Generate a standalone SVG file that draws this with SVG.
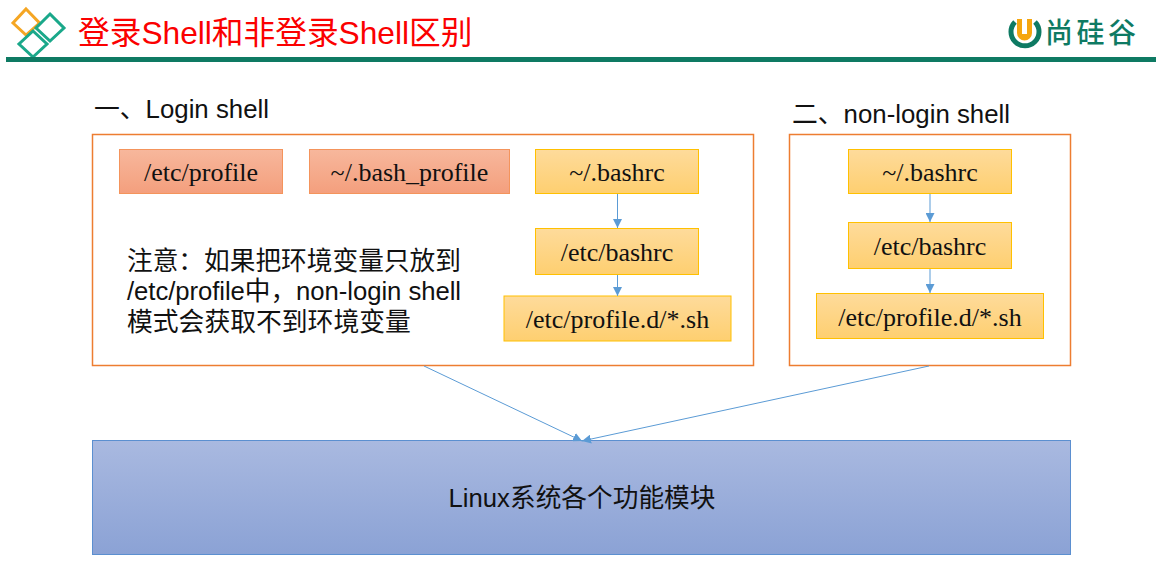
<svg xmlns="http://www.w3.org/2000/svg" width="1167" height="578" viewBox="0 0 1167 578">
<style>
.zh{font-family:"Liberation Sans","Noto Sans CJK SC",sans-serif;fill:#111}
.se{font-family:"Liberation Serif","Noto Sans CJK SC",serif;font-size:26px;fill:#111;text-anchor:middle}
.panel{fill:#fff;stroke:#ed7d31;stroke-width:1.5}
.red{fill:url(#gRed);stroke:#f4945c;stroke-width:1}
.yel{fill:url(#gYel);stroke:#ffc000;stroke-width:1}
.conn{stroke:#5b9bd5;stroke-width:1;fill:none}
.dia{fill:none;stroke-width:3}
</style>
<defs>
<linearGradient id="gRed" x1="0" y1="0" x2="0" y2="1"><stop offset="0" stop-color="#f7b79c"/><stop offset="1" stop-color="#f49f7d"/></linearGradient>
<linearGradient id="gYel" x1="0" y1="0" x2="0" y2="1"><stop offset="0" stop-color="#fedb9b"/><stop offset="1" stop-color="#fecf70"/></linearGradient>
<linearGradient id="gBlue" x1="0" y1="0" x2="0" y2="1"><stop offset="0" stop-color="#a9b9e0"/><stop offset="1" stop-color="#8ba2d5"/></linearGradient>
<marker id="arr" markerWidth="10" markerHeight="9" refX="9" refY="4.500" orient="auto" markerUnits="userSpaceOnUse"><path d="M0 0L9 4.500L0 9Z" fill="#5b9bd5"/></marker>
</defs>
<rect width="1167" height="578" fill="#fff"/>
<g id="header">
<path class="dia" stroke="#f5a623" d="M26 9L39.500 23L26 35L13 23Z"/>
<path class="dia" stroke="#1aa88a" d="M50 14L64 28L50 41L36 28Z"/>
<path class="dia" stroke="#1aa88a" d="M33 31L47 44L33 57L19 44Z"/>
<rect x="6" y="57" width="1150" height="5" fill="#0e7a63"/>
<text x="78" y="44" font-family="'Liberation Sans','Noto Sans CJK SC',sans-serif" font-size="31.700" fill="#fb0000">登录Shell和非登录Shell区别</text>
</g>
<g id="logo">
<path d="M1015 22A14 14 0 1 0 1035 22" fill="none" stroke="#0e7a63" stroke-width="5"/>
<path d="M1017 19V33A7.500 7.500 0 0 0 1032 33V19H1027V34H1022V19Z" fill="#f5a60f"/>
<text x="1045" y="43" font-family="'Noto Sans CJK SC',sans-serif" font-size="28" font-weight="500" textLength="91" fill="#0e7a63">尚硅谷</text>
</g>
<g id="panel-login"><rect class="panel" x="92.500" y="134.500" width="661" height="231"/></g>
<g id="panel-nonlogin"><rect class="panel" x="789.500" y="134.500" width="281" height="231"/></g>
<g id="label-login"><text class="zh" x="94" y="118" font-size="25.800">一、Login shell</text></g>
<g id="label-nonlogin"><text class="zh" x="792" y="123" font-size="25.800">二、non-login shell</text></g>
<g id="n1"><rect class="red" x="119.500" y="149.500" width="163" height="44"/><text class="se" x="201" y="181">/etc/profile</text></g>
<g id="n2"><rect class="red" x="309.500" y="149.500" width="200" height="44"/><text class="se" x="409.500" y="181">~/.bash_profile</text></g>
<g id="n3"><rect class="yel" x="535.500" y="149.500" width="163" height="44"/><text class="se" x="617" y="181">~/.bashrc</text></g>
<g id="n4"><rect class="yel" x="535.500" y="228.500" width="163" height="46"/><text class="se" x="617" y="261">/etc/bashrc</text></g>
<g id="n5"><rect class="yel" x="504" y="296" width="227" height="45"/><text class="se" x="617.500" y="328">/etc/profile.d/*.sh</text></g>
<g id="n6"><rect class="yel" x="848.500" y="149.500" width="163" height="44"/><text class="se" x="930" y="181">~/.bashrc</text></g>
<g id="n7"><rect class="yel" x="848.500" y="222.500" width="163" height="46"/><text class="se" x="930" y="255">/etc/bashrc</text></g>
<g id="n8"><rect class="yel" x="816.500" y="293.500" width="227" height="45"/><text class="se" x="930" y="326">/etc/profile.d/*.sh</text></g>
<g id="note">
<text class="zh" x="127" y="270" font-size="25.700">注意：如果把环境变量只放到</text>
<text class="zh" x="127" y="300" font-size="25.700" textLength="334">/etc/profile中，non-login shell</text>
<text class="zh" x="127" y="331" font-size="25.800">模式会获取不到环境变量</text>
</g>
<g id="n9"><rect x="92.500" y="440.500" width="978" height="114" fill="url(#gBlue)" stroke="#5b8fd0" stroke-width="1"/><text class="zh" x="582" y="507" font-size="25.700" text-anchor="middle">Linux系统各个功能模块</text></g>
<g id="connectors">
<line class="conn" x1="617.500" y1="194" x2="617.500" y2="228" marker-end="url(#arr)"/>
<line class="conn" x1="617.500" y1="275" x2="617.500" y2="296" marker-end="url(#arr)"/>
<line class="conn" x1="930" y1="194" x2="930" y2="222" marker-end="url(#arr)"/>
<line class="conn" x1="930" y1="269" x2="930" y2="293" marker-end="url(#arr)"/>
<line class="conn" x1="424" y1="366" x2="582" y2="441" marker-end="url(#arr)"/>
<line class="conn" x1="929" y1="366" x2="582" y2="441" marker-end="url(#arr)"/>
</g>
</svg>
